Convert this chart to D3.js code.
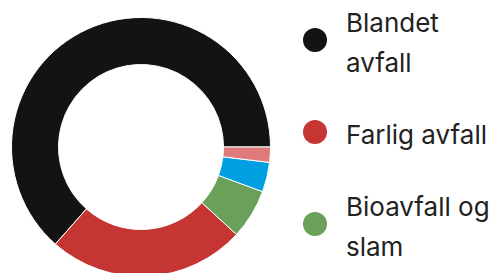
<!DOCTYPE html>
<html>
<head>
<meta charset="utf-8">
<script src="https://cdn.jsdelivr.net/npm/d3@7"></script>
<style>
  body { margin: 0; background: #fff; }
  .legendLabel { font-family: Inter, "Noto Sans", sans-serif; font-size: 26px; fill: #222; }
</style>
</head>
<body>
<div id="chart"></div>
<script>
// waste categories, shares in percent
const categories = ["Blandet avfall", "Farlig avfall", "Bioavfall og slam", "Papir og papp", "Plast"];
const shares = [63.5, 24.7, 6.2, 3.7, 1.9];
const colors = ["#131313", "#c43533", "#6aa05a", "#009fe2", "#e07b7b"];

const width = 502, height = 273;

const svg = d3.select("#chart").append("svg")
    .attr("width", width)
    .attr("height", height);

const data = categories.map((c, i) => ({name: c, value: shares[i], color: colors[i]}));

// pie starts at 3 o'clock and runs counter-clockwise
const pie = d3.pie()
    .value(d => d.value)
    .sort(null)
    .startAngle(Math.PI / 2)
    .endAngle(Math.PI / 2 - 2 * Math.PI);

const arc = d3.arc()
    .innerRadius(82.5)
    .outerRadius(129.5);

const g = svg.append("g")
    .attr("transform", "translate(141,147)");

g.selectAll("path")
    .data(pie(data))
    .enter()
    .append("path")
    .attr("d", arc)
    .attr("fill", d => d.data.color)
    .attr("stroke", "#fff")
    .attr("stroke-width", 1);

// legend: fixed row step, label wrapped and centred on the dot
const legendX = 315, textX = 346, maxTextWidth = 150, lineHeight = 40;
const rowStep = 92, firstRow = 40;

data.forEach((d, i) => {
    const item = svg.append("g").attr("class", "legendItem");
    const cy = firstRow + i * rowStep;

    // wrap label into lines that fit
    const words = d.name.split(" ");
    const lines = [];
    let line = [];
    const probe = svg.append("text").attr("class", "legendLabel");
    words.forEach(w => {
        probe.text(line.concat([w]).join(" "));
        if (line.length && probe.node().getComputedTextLength() > maxTextWidth) {
            lines.push(line.join(" "));
            line = [w];
        } else {
            line.push(w);
        }
    });
    lines.push(line.join(" "));
    probe.remove();

    item.append("circle")
        .attr("cx", legendX)
        .attr("cy", cy)
        .attr("r", 12)
        .attr("fill", d.color);

    const firstBaseline = cy + 12 - (lines.length - 1) * lineHeight / 2;
    const text = item.append("text")
        .attr("class", "legendLabel")
        .attr("x", textX)
        .attr("y", firstBaseline);

    lines.forEach((l, j) => {
        text.append("tspan")
            .attr("x", textX)
            .attr("y", firstBaseline + j * lineHeight)
            .text(l);
    });
});
</script>
</body>
</html>
